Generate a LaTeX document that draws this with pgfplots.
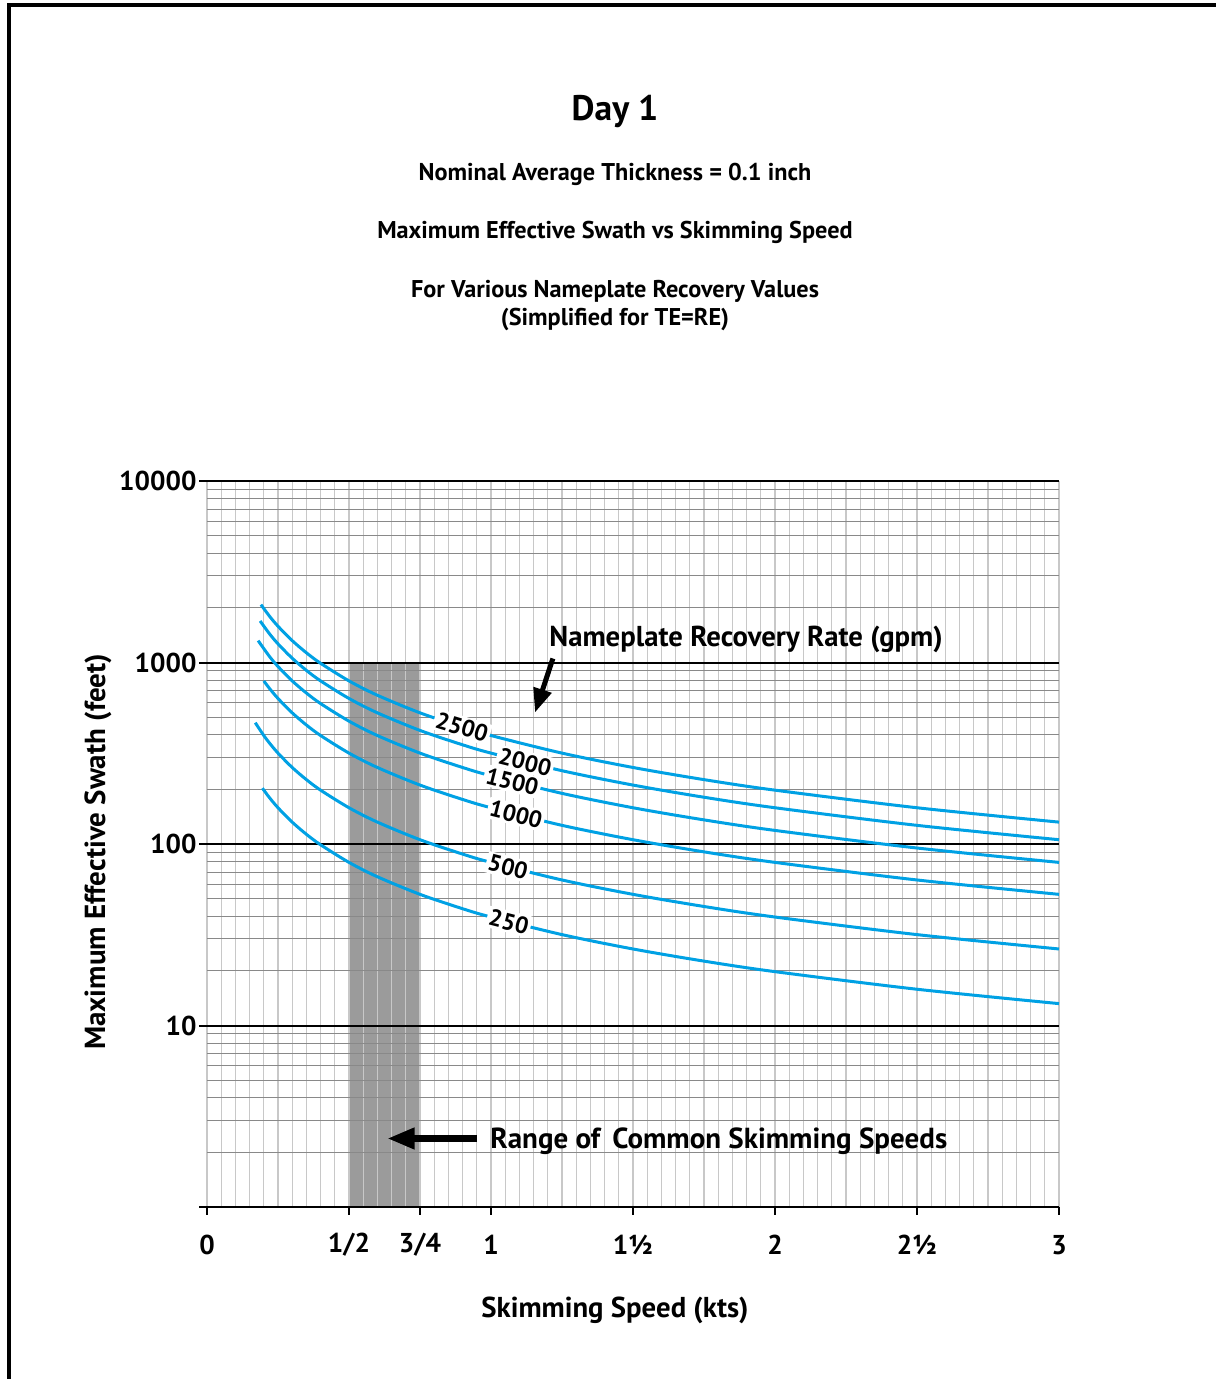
\documentclass[border=0pt]{standalone}
\usepackage{fontspec}
\setmainfont{PT Sans}
\usepackage{pgfplots}
\pgfplotsset{compat=1.18}
\usetikzlibrary{arrows.meta}
\definecolor{pagebg}{RGB}{255,255,255}
\definecolor{curve}{RGB}{0,161,228}
\definecolor{vgrid}{RGB}{200,200,200}
\definecolor{hgrid}{RGB}{137,137,137}
\definecolor{band}{RGB}{155,155,155}
\begin{document}
\begin{tikzpicture}
\fill[black] (2.9pt,0) rectangle (4.5pt,550.3pt);
\fill[black] (2.9pt,548.7pt) rectangle (486.4pt,550.3pt);
\begin{axis}[
  at={(82.8pt,68.8pt)}, anchor=south west,
  scale only axis, width=340.8pt, height=290.4pt,
  set layers,
  ymode=log, xmin=0, xmax=3, ymin=1, ymax=10000,
  axis line style={draw=none},
  xtick={0,0.5,0.75,1,1.5,2,2.5,3},
  xticklabels={0,1/2,3/4,1,1½,2,2½,3},
  minor xtick={0,0.05,...,3.01},
  ytick={1,10,100,1000,10000},
  yticklabels={,10,100,1000,10000},
  xtick pos=left, ytick pos=left,
  tick align=outside,
  major tick length=3.2pt, minor tick length=0pt,
  xtick style={black, line width=0.8pt},
  ytick style={black, line width=0.8pt},
  xmajorgrids, xminorgrids, ymajorgrids, yminorgrids,
  major x grid style={draw=vgrid, line width=0.5pt},
  minor x grid style={draw=vgrid, line width=0.5pt},
  major y grid style={draw=black, line width=0.8pt},
  minor y grid style={draw=hgrid, line width=0.45pt},
  every tick label/.append style={font=\bfseries\fontsize{10.9}{12}\selectfont},
  xticklabel style={anchor=center, inner sep=0pt, yshift=-12pt},
  yticklabel style={anchor=east, inner sep=0pt, xshift=-0.8pt},
  clip=false,
]
\addplot[fill=band, draw=none, on layer=axis background] coordinates {(0.5,1) (0.5,1000) (0.75,1000) (0.75,1)};
% 2500 gpm
\addplot[curve, line width=1.2pt, smooth, no marks] coordinates {
(0.19,2084) (0.22,1800) (0.25,1584) (0.3,1320) (0.35,1131.4) (0.4,990) (0.5,792) (0.6,660) (0.75,528) (0.9,440) (1.0,396) (1.25,316.8) (1.5,264) (1.75,226.3) (2.0,198) (2.5,158.4) (3.0,132)};
% 2000 gpm
\addplot[curve, line width=1.2pt, smooth, no marks] coordinates {
(0.187,1694) (0.22,1440) (0.25,1267) (0.3,1056) (0.35,905.1) (0.4,792) (0.5,633.6) (0.6,528) (0.75,422.4) (0.9,352) (1.0,316.8) (1.25,253.4) (1.5,211.2) (1.75,181.0) (2.0,158.4) (2.5,126.7) (3.0,105.6)};
% 1500 gpm
\addplot[curve, line width=1.2pt, smooth, no marks] coordinates {
(0.18,1320) (0.22,1080) (0.25,950.4) (0.3,792) (0.35,678.9) (0.4,594) (0.5,475.2) (0.6,396) (0.75,316.8) (0.9,264) (1.0,237.6) (1.25,190.1) (1.5,158.4) (1.75,135.8) (2.0,118.8) (2.5,95.04) (3.0,79.2)};
% 1000 gpm
\addplot[curve, line width=1.2pt, smooth, no marks] coordinates {
(0.2,792) (0.22,720) (0.25,633.6) (0.3,528) (0.35,452.6) (0.4,396) (0.5,316.8) (0.6,264) (0.75,211.2) (0.9,176) (1.0,158.4) (1.25,126.7) (1.5,105.6) (1.75,90.51) (2.0,79.2) (2.5,63.36) (3.0,52.8)};
% 500 gpm
\addplot[curve, line width=1.2pt, smooth, no marks] coordinates {
(0.17,465.9) (0.2,396) (0.22,360) (0.25,316.8) (0.3,264) (0.35,226.3) (0.4,198) (0.5,158.4) (0.6,132) (0.75,105.6) (0.9,88) (1.0,79.2) (1.25,63.36) (1.5,52.8) (1.75,45.26) (2.0,39.6) (2.5,31.68) (3.0,26.4)};
% 250 gpm
\addplot[curve, line width=1.2pt, smooth, no marks] coordinates {
(0.195,203.1) (0.22,180) (0.25,158.4) (0.3,132) (0.35,113.1) (0.4,99) (0.5,79.2) (0.6,66) (0.75,52.8) (0.9,44) (1.0,39.6) (1.25,31.68) (1.5,26.4) (1.75,22.63) (2.0,19.8) (2.5,15.84) (3.0,13.2)};
\begin{scope}[every node/.style={fill=pagebg, inner sep=0.9pt, font=\bfseries\fontsize{9.4}{10}\selectfont}]
\node[rotate=-17] at (axis cs:0.898,441) {2500};
\node[rotate=-14] at (axis cs:1.12,282.9) {2000};
\node[rotate=-14] at (axis cs:1.075,221) {1500};
\node[rotate=-14] at (axis cs:1.088,145.6) {1000};
\node[rotate=-14.5] at (axis cs:1.06,74.7) {500};
\node[rotate=-14.5] at (axis cs:1.063,37.3) {250};
\end{scope}
\draw[line width=2pt, -{Triangle[length=9.6pt,width=7.2pt]}] (axis cs:1.218,1052) -- (axis cs:1.155,530);
\node[anchor=west, inner sep=0pt, font=\bfseries\fontsize{11.5}{13}\selectfont] at (axis cs:1.204,1339) {Nameplate Recovery Rate (gpm)};
\draw[line width=2.8pt, -{Triangle[length=11pt,width=8pt]}] (axis cs:0.951,2.385) -- (axis cs:0.634,2.385);
\node[anchor=west, inner sep=0pt, font=\bfseries\fontsize{11.6}{13}\selectfont] at (axis cs:0.996,2.30) {Range of\ \,Common Skimming Speeds};
\end{axis}
\node[font=\bfseries\fontsize{14.2}{17}\selectfont] at (246pt,506.8pt) {Day 1};
\node[font=\bfseries\fontsize{9.7}{11}\selectfont] at (246pt,482.0pt) {Nominal Average Thickness = 0.1 inch};
\node[font=\bfseries\fontsize{9.7}{11}\selectfont] at (246pt,458.8pt) {Maximum Effective Swath vs Skimming Speed};
\node[font=\bfseries\fontsize{9.7}{11}\selectfont] at (246pt,435.2pt) {For Various Nameplate Recovery Values};
\node[font=\bfseries\fontsize{9.7}{11}\selectfont] at (246pt,423.6pt) {(Simplified for TE=RE)};
\node[font=\bfseries\fontsize{11.5}{13}\selectfont] at (246pt,27.6pt) {Skimming Speed (kts)};
\node[font=\bfseries\fontsize{11.6}{13}\selectfont, rotate=90] at (39.2pt,210.8pt) {Maximum Effective Swath (feet)};
\useasboundingbox (0,0) rectangle (486.4pt,551.6pt);
\end{tikzpicture}
\end{document}
